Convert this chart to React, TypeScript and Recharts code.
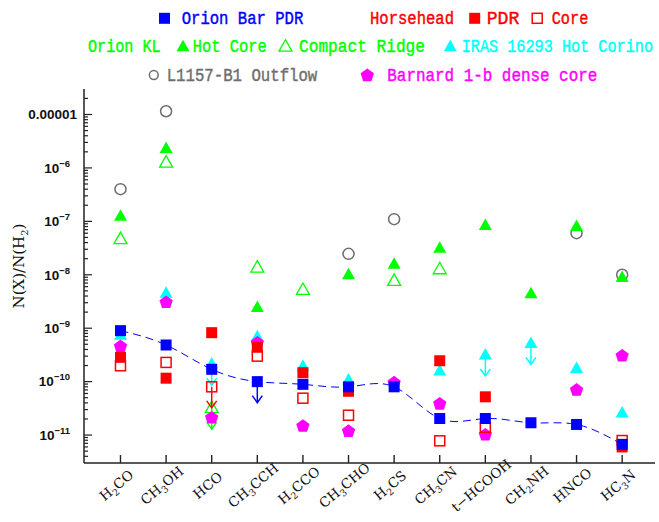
import React from "react";
import { ScatterChart, Scatter, XAxis, YAxis } from "recharts";

const molecules = [
  "H2CO", "CH3OH", "HCO", "CH3CCH", "H2CCO", "CH3CHO",
  "H2CS", "CH3CN", "t−HCOOH", "CH2NH", "HNCO", "HC3N",
];

// N(X)/N(H2) per molecule, null = not observed
const orionBarPdr = [9.0e-10, 4.85e-10, 1.7e-10, 1.0e-10, 8.9e-11, 8.0e-11, 8.0e-11, 2.04e-11, 2.04e-11, 1.7e-11, 1.58e-11, 6.7e-12];
const horseheadPdr = [2.85e-10, 1.16e-10, 8.25e-10, 4.4e-10, 1.47e-10, 6.6e-11, null, 2.46e-10, 5.2e-11, null, null, 6.0e-12];
const horseheadCore = [1.98e-10, 2.29e-10, 8.0e-11, 3.0e-10, 4.9e-11, 2.35e-11, null, 7.8e-12, 1.4e-11, null, null, 7.9e-12];
const hotCore = [1.24e-7, 2.3e-6, null, 2.43e-9, null, 1.0e-8, 1.58e-8, 3.15e-8, 8.4e-8, 4.4e-9, 8.0e-8, 8.9e-9];
const compactRidge = [4.65e-8, 1.26e-6, 3.2e-11, 1.36e-8, 5.2e-9, null, 7.7e-9, 1.27e-8, null, null, null, null];
const iras16293 = [7.4e-10, 4.5e-9, 2.13e-10, 6.9e-10, 1.95e-10, 1.07e-10, null, 1.58e-10, 3.15e-10, 5.2e-10, 1.77e-10, 2.6e-11];
const l1157b1 = [4.0e-7, 1.15e-5, null, null, null, 2.47e-8, 1.1e-7, null, null, null, 6.0e-8, 1.0e-8];
const barnard1b = [4.63e-10, 3.1e-9, 2.14e-11, 5.4e-10, 1.5e-11, 1.2e-11, 9.7e-11, 3.9e-11, 1.03e-11, null, 7.1e-11, 3.1e-10];

// upper limits, drawn with a down arrow
const orionBarLimits = ["CH3CCH"];
const horseheadCoreLimits = ["HCO"];
const compactRidgeLimits = ["HCO"];
const iras16293Limits = ["HCO", "t−HCOOH", "CH2NH"];

const yMajorTicks = [1e-11, 1e-10, 1e-9, 1e-8, 1e-7, 1e-6, 1e-5];
const yTickLabels = ["10^−11", "10^−10", "10^−9", "10^−8", "10^−7", "10^−6", "0.00001"];

const Y_DOMAIN = [3e-12, 3e-5];
const X_DOMAIN = [-0.8, 11.72];

const BLUE = "#0000ff";
const RED = "#ff0000";
const GREEN = "#00ff00";
const CYAN = "#00ffff";
const MAGENTA = "#ff00ff";
const GRAY = "#6e6e6e";
const AXIS = "#222";

const xTicks = molecules.map((_, i) => i);
const yTicks: number[] = [];
for (let e = -12; e <= -5; e++) {
  for (let m = 1; m <= 9; m++) {
    const v = m * Math.pow(10, e);
    if (v > Y_DOMAIN[0] * 1.0001 && v < Y_DOMAIN[1] * 0.9999) yTicks.push(v);
  }
}
const majorIndex = (v: number) => yMajorTicks.findIndex((t) => Math.abs(t - v) / t < 1e-6);

function toPoints(vals: (number | null)[], limits: string[] = []) {
  const out: { x: number; y: number; ul: boolean }[] = [];
  vals.forEach((v, i) => {
    if (v != null) out.push({ x: i, y: v, ul: limits.includes(molecules[i]) });
  });
  return out;
}

type Kind = "square" | "openSquare" | "triangle" | "openTriangle" | "pentagon" | "circle";

function symbol(kind: Kind, cx: number, cy: number, color: string, s = 1) {
  switch (kind) {
    case "square":
      return <rect x={cx - 5.5 * s} y={cy - 5.5 * s} width={11 * s} height={11 * s} fill={color} />;
    case "openSquare":
      return <rect x={cx - 5 * s} y={cy - 5 * s} width={10 * s} height={10 * s} fill="none" stroke={color} strokeWidth={1.5} />;
    case "triangle":
    case "openTriangle": {
      const pts = `${cx},${cy - 7 * s} ${cx + 6.5 * s},${cy + 4.5 * s} ${cx - 6.5 * s},${cy + 4.5 * s}`;
      return kind === "triangle" ? (
        <polygon points={pts} fill={color} />
      ) : (
        <polygon points={pts} fill="none" stroke={color} strokeWidth={1.3} />
      );
    }
    case "pentagon": {
      const pts = [0, 1, 2, 3, 4]
        .map((k) => {
          const a = ((-90 + k * 72) * Math.PI) / 180;
          return `${cx + 7 * s * Math.cos(a)},${cy + 7 * s * Math.sin(a) + 0.5}`;
        })
        .join(" ");
      return <polygon points={pts} fill={color} />;
    }
    case "circle":
      return <circle cx={cx} cy={cy} r={5.5 * s} fill="none" stroke={color} strokeWidth={1.5} />;
  }
}

function markerShape(kind: Kind, color: string) {
  return (props: any) => {
    const { cx, cy, payload } = props;
    if (cx == null || cy == null) return <g />;
    return (
      <g>
        {payload && payload.ul && (
          <g stroke={color} strokeWidth={1.5} fill="none">
            <line x1={cx} y1={cy} x2={cx} y2={cy + 21} />
            <polyline points={`${cx - 5},${cy + 14} ${cx},${cy + 21} ${cx + 5},${cy + 14}`} />
          </g>
        )}
        {symbol(kind, cx, cy, color)}
      </g>
    );
  };
}

function LeftTick(props: any) {
  const { x, y, payload } = props;
  const i = majorIndex(payload.value);
  const major = i >= 0;
  let label = null;
  if (major) {
    const [base, exp] = yTickLabels[i].split("^");
    label = exp ? (
      <text x={x - 14} y={y + 4.8} textAnchor="end" fontFamily="Liberation Sans" fontWeight="bold" fontSize={13.5} fill="#111">
        {base}
        <tspan dy={-6} fontSize={9.5}>{exp}</tspan>
      </text>
    ) : (
      <text x={x - 7} y={y + 4.8} textAnchor="end" fontFamily="Liberation Sans" fontWeight="bold" fontSize={13.5} fill="#111">
        {base}
      </text>
    );
  }
  return (
    <g>
      <line x1={x} x2={x + (major ? 8 : 4)} y1={y} y2={y} stroke={AXIS} strokeWidth={1.2} />
      {label}
    </g>
  );
}

function RightTick(props: any) {
  const { x, y, payload } = props;
  const major = majorIndex(payload.value) >= 0;
  return <line x1={x} x2={x - (major ? 8 : 4)} y1={y} y2={y} stroke={AXIS} strokeWidth={1.2} />;
}

function TopTick(props: any) {
  const { x, y } = props;
  return <line x1={x} x2={x} y1={y} y2={y + 8} stroke={AXIS} strokeWidth={1.4} />;
}

function BottomTick(props: any) {
  const { x, y, payload } = props;
  const name = molecules[payload.value] ?? "";
  const parts = name.split(/(\d+)/).filter(Boolean);
  const lx = x - 1;
  const ly = y + 26;
  let shifted = false;
  return (
    <g>
      <line x1={x} x2={x} y1={y} y2={y - 8} stroke={AXIS} strokeWidth={1.4} />
      <text
        x={lx}
        y={ly}
        textAnchor="middle"
        transform={`rotate(-40 ${lx} ${ly})`}
        fontFamily="DejaVu Serif"
        fontSize={13.5}
        fill="#111"
      >
        {parts.map((s, k) => {
          const isSub = /^\d+$/.test(s);
          let dy = 0;
          if (isSub && !shifted) { dy = 3.5; shifted = true; }
          else if (!isSub && shifted) { dy = -3.5; shifted = false; }
          return (
            <tspan key={k} dy={dy} fontSize={isSub ? 9.5 : 13.5}>
              {s}
            </tspan>
          );
        })}
      </text>
    </g>
  );
}

// legend items, page pixels
const legendTexts = [
  { text: "Orion Bar PDR", x0: 181.7, x1: 303.3, row: 0, color: BLUE },
  { text: "Horsehead", x0: 370, x1: 454, row: 0, color: RED },
  { text: "PDR", x0: 486.7, x1: 519.3, row: 0, color: RED },
  { text: "Core", x0: 551.7, x1: 588.3, row: 0, color: RED },
  { text: "Orion KL", x0: 88, x1: 160.7, row: 1, color: GREEN },
  { text: "Hot Core", x0: 192.7, x1: 266.7, row: 1, color: GREEN },
  { text: "Compact Ridge", x0: 299, x1: 425, row: 1, color: GREEN },
  { text: "IRAS 16293 Hot Corino", x0: 461.7, x1: 653, row: 1, color: CYAN },
  { text: "L1157-B1 Outflow", x0: 166.7, x1: 317.3, row: 2, color: GRAY },
  { text: "Barnard 1-b dense core", x0: 387.3, x1: 597.3, row: 2, color: MAGENTA },
];
const legendSymbols: { kind: Kind; cx: number; row: number; color: string; s: number }[] = [
  { kind: "square", cx: 164.5, row: 0, color: BLUE, s: 1 },
  { kind: "square", cx: 474.7, row: 0, color: RED, s: 1 },
  { kind: "openSquare", cx: 537.2, row: 0, color: RED, s: 1 },
  { kind: "triangle", cx: 183, row: 1, color: GREEN, s: 1 },
  { kind: "openTriangle", cx: 285.5, row: 1, color: GREEN, s: 1 },
  { kind: "triangle", cx: 450.3, row: 1, color: CYAN, s: 1 },
  { kind: "circle", cx: 153.8, row: 2, color: GRAY, s: 0.8 },
  { kind: "pentagon", cx: 367.3, row: 2, color: MAGENTA, s: 1 },
];
const rowCenter = [18.3, 46.7, 75];

function Overlay() {
  return (
    <svg
      width={659}
      height={522}
      style={{ position: "absolute", left: 0, top: 0, pointerEvents: "none" }}
    >
      {legendTexts.map((t) => (
        <text
          key={t.text}
          x={0}
          y={0}
          transform={`translate(${t.x0} ${rowCenter[t.row] + 5.5}) scale(1 1.17)`}
          textLength={t.x1 - t.x0}
          lengthAdjust="spacingAndGlyphs"
          fontFamily="Liberation Mono"
          fontSize={15}
          fill={t.color}
          stroke={t.color}
          strokeWidth={0.35}
        >
          {t.text}
        </text>
      ))}
      {legendSymbols.map((s, k) => (
        <g key={k}>{symbol(s.kind, s.cx, rowCenter[s.row], s.color, s.s)}</g>
      ))}
      <text
        x={24}
        y={266}
        transform="rotate(-90 24 266)"
        textAnchor="middle"
        fontFamily="DejaVu Serif"
        fontSize={15}
        fill="#111"
      >
        N(X)/N(H<tspan dy={3.5} fontSize={10}>2</tspan>
        <tspan dy={-3.5}>)</tspan>
      </text>
    </svg>
  );
}

export default function App() {
  return (
    <div style={{ position: "relative", width: 659, height: 522 }}>
      <style>{"body{margin:0;overflow:hidden}"}</style>
      <ScatterChart width={659} height={522} margin={{ top: 89, right: 4, bottom: 0, left: 0 }}>
        <XAxis
          xAxisId={0}
          dataKey="x"
          type="number"
          domain={X_DOMAIN}
          allowDataOverflow
          ticks={xTicks}
          interval={0}
          height={59}
          tickSize={0}
          tickMargin={0}
          tick={<BottomTick />}
          axisLine={{ stroke: AXIS, strokeWidth: 1.5 }}
        />
        <XAxis
          xAxisId="top"
          orientation="top"
          type="number"
          domain={X_DOMAIN}
          allowDataOverflow
          ticks={xTicks}
          interval={0}
          height={0}
          tickSize={0}
          tickMargin={0}
          tick={<TopTick />}
          axisLine={{ stroke: AXIS, strokeWidth: 1.5 }}
        />
        <YAxis
          yAxisId={0}
          dataKey="y"
          type="number"
          scale="log"
          domain={Y_DOMAIN}
          allowDataOverflow
          ticks={yTicks}
          interval={0}
          width={84}
          tickSize={0}
          tickMargin={0}
          tick={<LeftTick />}
          axisLine={{ stroke: AXIS, strokeWidth: 1.5 }}
        />
        <YAxis
          yAxisId="right"
          orientation="right"
          type="number"
          scale="log"
          domain={Y_DOMAIN}
          allowDataOverflow
          ticks={yTicks}
          interval={0}
          width={0}
          tickSize={0}
          tickMargin={0}
          tick={<RightTick />}
          axisLine={{ stroke: AXIS, strokeWidth: 1.5 }}
        />
        <Scatter data={toPoints(l1157b1)} shape={markerShape("circle", GRAY)} isAnimationActive={false} />
        <Scatter data={toPoints(hotCore)} shape={markerShape("triangle", GREEN)} isAnimationActive={false} />
        <Scatter data={toPoints(compactRidge, compactRidgeLimits)} shape={markerShape("openTriangle", GREEN)} isAnimationActive={false} />
        <Scatter data={toPoints(iras16293, iras16293Limits)} shape={markerShape("triangle", CYAN)} isAnimationActive={false} />
        <Scatter data={toPoints(barnard1b)} shape={markerShape("pentagon", MAGENTA)} isAnimationActive={false} />
        <Scatter data={toPoints(horseheadPdr)} shape={markerShape("square", RED)} isAnimationActive={false} />
        <Scatter data={toPoints(horseheadCore, horseheadCoreLimits)} shape={markerShape("openSquare", RED)} isAnimationActive={false} />
        <Scatter
          data={toPoints(orionBarPdr, orionBarLimits)}
          shape={markerShape("square", BLUE)}
          line={{ stroke: BLUE, strokeWidth: 1, strokeDasharray: "8 5" }}
          lineJointType="natural"
          isAnimationActive={false}
        />
      </ScatterChart>
      <Overlay />
    </div>
  );
}
